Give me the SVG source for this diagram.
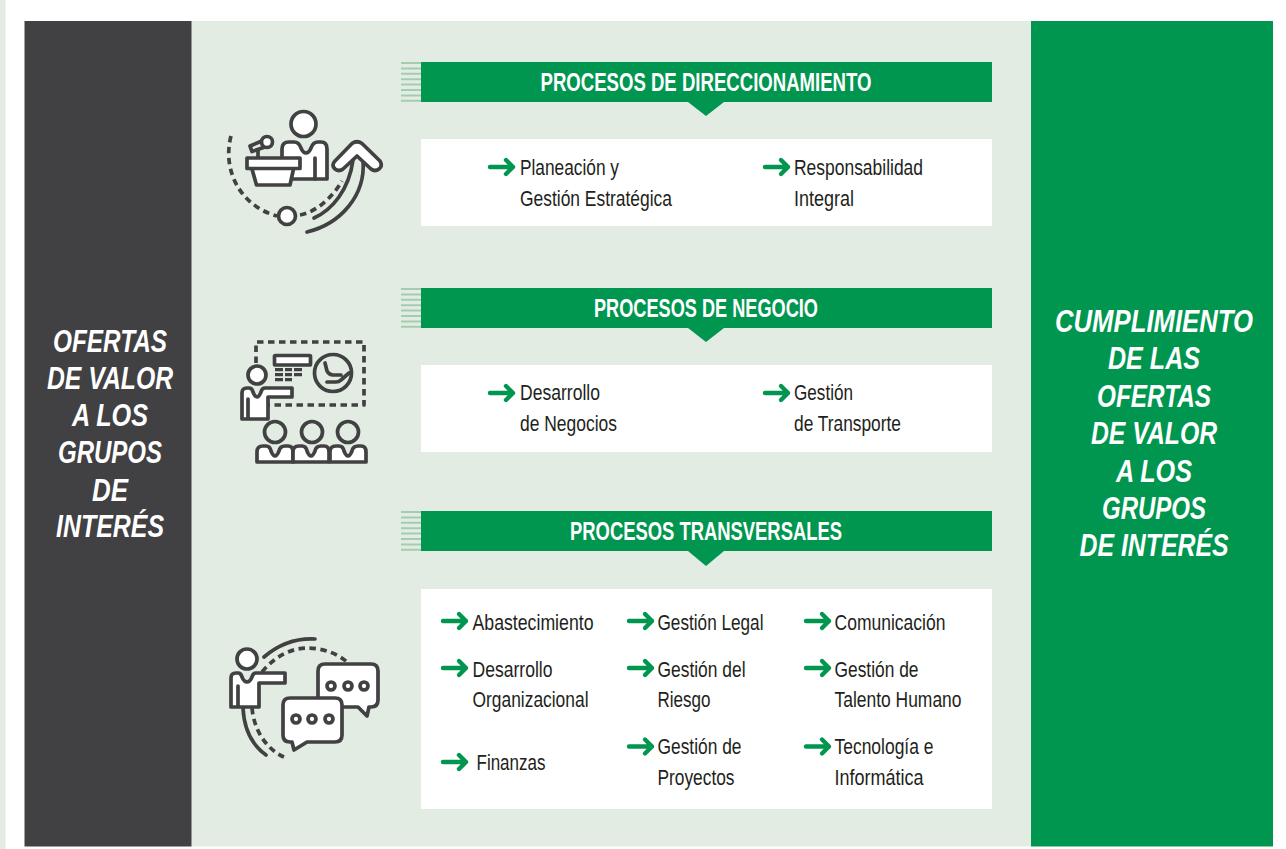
<svg xmlns="http://www.w3.org/2000/svg" width="1286" height="849" viewBox="0 0 1286 849">
<style>
.h{font:bold 26px "Liberation Sans",Arial,sans-serif;fill:#fff;text-anchor:middle}
.t{font:21.5px "Liberation Sans",Arial,sans-serif;fill:#231f20}
.s{font:italic bold 32px "Liberation Sans",Arial,sans-serif;fill:#fff;text-anchor:middle}
.ic{fill:none;stroke:#414042;stroke-width:3.700;stroke-linecap:round;stroke-linejoin:round}
.w{fill:#fff}
.d{stroke-dasharray:6.500 4.500;stroke-linecap:butt}
.a{fill:none;stroke:#009650;stroke-width:4.400;stroke-linecap:round;stroke-linejoin:round}
.st{stroke:#a3cdae;stroke-width:2}
</style>
<defs>
<g id="arr"><path class="a" d="M0 0H23M16-7L23 0L16 7"/></g>
<g id="stripes"><path class="st" d="M401 63H421M401 68.400H421M401 73.800H421M401 79.200H421M401 84.600H421M401 90H421M401 95.400H421M401 100.800H421"/></g>
<path id="aud" d="M0 16V6Q0 0 6 0H9Q13 0 14 5Q16 10 18 10Q20 10 22 5Q23 0 28 0H31Q36 0 36 6V16Z"/>
</defs>
<rect x="0" y="0" width="1286" height="849" fill="#fff"/>
<rect x="0" y="0" width="5.500" height="849" fill="#e2ece3"/>
<rect x="191" y="21" width="840" height="825.500" fill="#e2ece3"/>
<rect x="24.500" y="21" width="167" height="825.500" fill="#414042"/>
<rect x="1031" y="21" width="242" height="825.500" fill="#009650"/>
<g id="side-left">
<text class="s" x="110" y="352" textLength="114" lengthAdjust="spacingAndGlyphs">OFERTAS</text>
<text class="s" x="110" y="389" textLength="126" lengthAdjust="spacingAndGlyphs">DE VALOR</text>
<text class="s" x="110" y="426" textLength="76" lengthAdjust="spacingAndGlyphs">A LOS</text>
<text class="s" x="110" y="463" textLength="104" lengthAdjust="spacingAndGlyphs">GRUPOS</text>
<text class="s" x="110" y="501" textLength="36" lengthAdjust="spacingAndGlyphs">DE</text>
<text class="s" x="110" y="537" textLength="108" lengthAdjust="spacingAndGlyphs">INTERÉS</text>
</g>
<g id="side-right">
<text class="s" x="1154" y="332" textLength="198" lengthAdjust="spacingAndGlyphs">CUMPLIMIENTO</text>
<text class="s" x="1154" y="369" textLength="92" lengthAdjust="spacingAndGlyphs">DE LAS</text>
<text class="s" x="1154" y="407" textLength="114" lengthAdjust="spacingAndGlyphs">OFERTAS</text>
<text class="s" x="1154" y="444" textLength="126" lengthAdjust="spacingAndGlyphs">DE VALOR</text>
<text class="s" x="1154" y="482" textLength="76" lengthAdjust="spacingAndGlyphs">A LOS</text>
<text class="s" x="1154" y="519" textLength="104" lengthAdjust="spacingAndGlyphs">GRUPOS</text>
<text class="s" x="1154" y="556" textLength="149" lengthAdjust="spacingAndGlyphs">DE INTERÉS</text>
</g>
<g id="header-direccionamiento">
<use href="#stripes"/>
<path fill="#009650" d="M421 62H992V102H724L706 116L688 102H421Z"/>
<text class="h" x="706" y="91" textLength="331" lengthAdjust="spacingAndGlyphs">PROCESOS DE DIRECCIONAMIENTO</text>
</g>
<g id="header-negocio">
<use href="#stripes" y="226"/>
<path fill="#009650" d="M421 288H992V328H724L706 342L688 328H421Z"/>
<text class="h" x="706" y="317" textLength="224" lengthAdjust="spacingAndGlyphs">PROCESOS DE NEGOCIO</text>
</g>
<g id="header-transversales">
<use href="#stripes" y="449"/>
<path fill="#009650" d="M421 511H992V551H724L706 566L688 551H421Z"/>
<text class="h" x="706" y="540" textLength="272" lengthAdjust="spacingAndGlyphs">PROCESOS TRANSVERSALES</text>
</g>
<g id="box-direccionamiento">
<rect class="w" x="421" y="139" width="571" height="87"/>
<use href="#arr" x="490" y="167"/>
<text class="t" x="520" y="175" textLength="99" lengthAdjust="spacingAndGlyphs">Planeación y</text>
<text class="t" x="520" y="206" textLength="152" lengthAdjust="spacingAndGlyphs">Gestión Estratégica</text>
<use href="#arr" x="765" y="167"/>
<text class="t" x="794" y="175" textLength="129" lengthAdjust="spacingAndGlyphs">Responsabilidad</text>
<text class="t" x="794" y="206" textLength="60" lengthAdjust="spacingAndGlyphs">Integral</text>
</g>
<g id="box-negocio">
<rect class="w" x="421" y="365" width="571" height="87"/>
<use href="#arr" x="490" y="393"/>
<text class="t" x="520" y="400" textLength="80" lengthAdjust="spacingAndGlyphs">Desarrollo</text>
<text class="t" x="520" y="431" textLength="97" lengthAdjust="spacingAndGlyphs">de Negocios</text>
<use href="#arr" x="765" y="393"/>
<text class="t" x="794" y="400" textLength="59" lengthAdjust="spacingAndGlyphs">Gestión</text>
<text class="t" x="794" y="431" textLength="107" lengthAdjust="spacingAndGlyphs">de Transporte</text>
</g>
<g id="box-transversales">
<rect class="w" x="421" y="589" width="571" height="220"/>
<use href="#arr" x="443" y="621"/>
<text class="t" x="472.500" y="630" textLength="121" lengthAdjust="spacingAndGlyphs">Abastecimiento</text>
<use href="#arr" x="629" y="621"/>
<text class="t" x="657.500" y="630" textLength="106" lengthAdjust="spacingAndGlyphs">Gestión Legal</text>
<use href="#arr" x="806" y="621"/>
<text class="t" x="834.500" y="630" textLength="111" lengthAdjust="spacingAndGlyphs">Comunicación</text>
<use href="#arr" x="443" y="668"/>
<text class="t" x="472.500" y="677" textLength="80" lengthAdjust="spacingAndGlyphs">Desarrollo</text>
<text class="t" x="472.500" y="707" textLength="116" lengthAdjust="spacingAndGlyphs">Organizacional</text>
<use href="#arr" x="629" y="668"/>
<text class="t" x="657.500" y="677" textLength="88" lengthAdjust="spacingAndGlyphs">Gestión del</text>
<text class="t" x="657.500" y="707" textLength="53" lengthAdjust="spacingAndGlyphs">Riesgo</text>
<use href="#arr" x="806" y="668"/>
<text class="t" x="834.500" y="677" textLength="84" lengthAdjust="spacingAndGlyphs">Gestión de</text>
<text class="t" x="834.500" y="707" textLength="127" lengthAdjust="spacingAndGlyphs">Talento Humano</text>
<use href="#arr" x="443" y="762"/>
<text class="t" x="476.500" y="770" textLength="69" lengthAdjust="spacingAndGlyphs">Finanzas</text>
<use href="#arr" x="629" y="746.500"/>
<text class="t" x="657.500" y="754" textLength="84" lengthAdjust="spacingAndGlyphs">Gestión de</text>
<text class="t" x="657.500" y="785" textLength="77" lengthAdjust="spacingAndGlyphs">Proyectos</text>
<use href="#arr" x="806" y="746.500"/>
<text class="t" x="834.500" y="754" textLength="99" lengthAdjust="spacingAndGlyphs">Tecnología e</text>
<text class="t" x="834.500" y="785" textLength="89" lengthAdjust="spacingAndGlyphs">Informática</text>
</g>
<g id="icon-podium">
<path class="ic d" d="M231 136C222 170 240 206 277 216M300 215C316 212 332 198 342 181"/>
<circle class="ic w" cx="287" cy="216" r="8.500"/>
<circle class="ic w" cx="303.500" cy="124" r="12.500"/>
<path class="ic w" d="M282 179V149Q282 142 289 142H294Q299 142 301 148Q303 153 306 153Q309 153 311 148Q313 142 318 142H321Q327 142 327 149V179Z"/>
<path class="ic" d="M315 179V158"/>
<path class="ic" d="M258 150V157"/>
<path class="ic w" d="M252 169L256.500 185H290L293.500 169"/>
<rect class="ic w" x="247" y="158" width="53" height="10.500"/>
<path class="ic" d="M250 146L263 140.500L265 147L252 151.500Z" fill="#414042"/>
<circle class="ic w" cx="267" cy="142" r="5.500"/>
<path class="ic" d="M314 218C332 210 349 190 353 160M307 232C340 224 366 196 363 160"/>
<path class="ic w" d="M352 143.500Q357 140 362 143.500L380 161Q383 166 379 169Q375 172 371 169L357 156L343 169Q339 172 335 169Q331 165 335 161Z"/>
</g>
<g id="icon-presentation">
<path class="ic d" d="M256 363V342H364V405H268"/>
<rect class="ic w" x="274.500" y="355.500" width="36" height="9.500" rx="1"/>
<path d="M275 368h8v3.200h-8zM285 368h7v3.200h-7zM294 368h8v3.200h-8zM275 373h8v3.200h-8zM285 373h7v3.200h-7zM294 373h8v3.200h-8zM275 378h8v3.200h-8zM285 378h7v3.200h-7z" fill="#414042"/>
<circle class="ic" cx="333" cy="373" r="18.500"/>
<path class="ic" d="M325 363L327 371Q329 375 333 375H341M327 382H336Q339 382 341 380L349 373"/>
<circle class="ic w" cx="257" cy="375" r="9"/>
<path class="ic w" d="M242 419V393Q242 388 247 388H249Q252 388 253 392Q255 397 257 397Q259 397 261 392Q262 388 265 388H292V397H268V419ZM248 419V399"/>
<circle class="ic" cx="275" cy="432" r="10.500"/>
<circle class="ic" cx="312" cy="432" r="10.500"/>
<circle class="ic" cx="348" cy="432" r="10.500"/>
<use href="#aud" x="257" y="446" class="ic w"/>
<use href="#aud" x="293" y="446" class="ic w"/>
<use href="#aud" x="330" y="446" class="ic w"/>
</g>
<g id="icon-chat">
<path class="ic" d="M264 657C278 645 295 638 315 639M243 708C244 728 252 745 266 755"/>
<path class="ic d" d="M262 672C275 656 292 648 307 648C322 648 337 653 347 662M252 708C254 730 266 749 284 757"/>
<circle class="ic w" cx="247" cy="659" r="10"/>
<path class="ic w" d="M231 707V678Q231 673 236 673H238Q241 673 242 677Q244 682 247 682Q250 682 252 677Q253 673 256 673H285V683H259V707ZM238 707V686"/>
<path class="ic w" d="M325 664H371Q378 664 378 671V700Q378 707 371 707H369L367 716L358 707H325Q318 707 318 700V671Q318 664 325 664Z"/>
<circle class="ic" cx="331" cy="686" r="4"/>
<circle class="ic" cx="348" cy="686" r="4"/>
<circle class="ic" cx="364" cy="686" r="4"/>
<path class="ic w" d="M290 698H335Q342 698 342 705V735Q342 742 335 742H307L294 750L292 742H290Q283 742 283 735V705Q283 698 290 698Z"/>
<circle class="ic" cx="296" cy="719" r="4"/>
<circle class="ic" cx="312" cy="719" r="4"/>
<circle class="ic" cx="329" cy="719" r="4"/>
</g>
</svg>
